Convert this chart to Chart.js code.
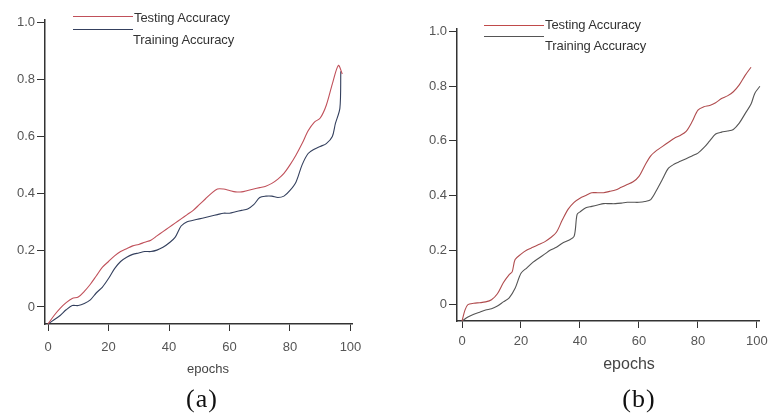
<!DOCTYPE html>
<html lang="en">
<head>
  <meta charset="UTF-8">
  <title>Testing vs Training Accuracy</title>
  <script src="https://cdn.jsdelivr.net/npm/chart.js"></script>
  <style>
    html, body {
      margin: 0;
      padding: 0;
      background: #fff;
      overflow: hidden;
      width: 768px;
      height: 419px;
    }

    body {
      position: relative;
      font-family: "Liberation Sans", Arial, sans-serif;
    }

    canvas {
      position: absolute;
      top: 0;
    }

    #chartA { left: 0; }
    #chartB { left: 384px; }

    .key {
      position: absolute;
      height: 1px;
      width: 60px;
    }

    .keyText {
      position: absolute;
      font-size: 13px;
      line-height: 14px;
      color: #333;
      letter-spacing: -0.1px;
      white-space: nowrap;
    }

    .axisTitle {
      position: absolute;
      color: #444;
      transform: translate(-50%, -50%);
      white-space: nowrap;
    }

    .caption {
      position: absolute;
      font-family: "Liberation Serif", "Times New Roman", serif;
      font-size: 26px;
      letter-spacing: 1px;
      color: #111;
      transform: translate(-50%, -50%);
    }
  </style>
</head>
<body>

  <canvas id="chartA" width="384" height="419"></canvas>
  <canvas id="chartB" width="400" height="419"></canvas>

  <!-- legends -->
  <div class="key" style="left:73px; top:16px; background:#c0505a;"></div>
  <div class="keyText" style="left:134px; top:11px;">Testing Accuracy</div>
  <div class="key" style="left:73px; top:29px; background:#34405e;"></div>
  <div class="keyText" style="left:133px; top:33px;">Training Accuracy</div>

  <div class="key" style="left:484px; top:25px; background:#c04a4a;"></div>
  <div class="keyText" style="left:545px; top:18px;">Testing Accuracy</div>
  <div class="key" style="left:484px; top:36px; background:#555;"></div>
  <div class="keyText" style="left:545px; top:39px;">Training Accuracy</div>

  <div class="axisTitle" style="left:208px; top:368px; font-size:13px;">epochs</div>
  <div class="axisTitle" style="left:629px; top:364px; font-size:16px;">epochs</div>

  <div class="caption" style="left:202px; top:399px;">(a)</div>
  <div class="caption" style="left:639px; top:399px;">(b)</div>

  <script>
    // Panel (a)
    const epochsA = [0, 2, 4, 6, 8, 10, 12, 14, 16, 18, 20, 22, 24, 26, 28, 30, 32, 34, 36, 38,
      40, 42, 44, 46, 48, 50, 52, 54, 56, 58, 60, 62, 64, 66, 68, 70, 72, 74, 76, 78,
      80, 82, 84, 86, 88, 90, 92, 94, 96, 97.3];
    const testAccA = [-0.06, -0.03, -0.005, 0.015, 0.03, 0.035, 0.055, 0.08, 0.11, 0.14,
      0.16, 0.18, 0.195, 0.205, 0.215, 0.22, 0.228, 0.235, 0.25, 0.265,
      0.28, 0.295, 0.31, 0.325, 0.34, 0.36, 0.38, 0.40, 0.415, 0.415,
      0.41, 0.405, 0.405, 0.41, 0.415, 0.42, 0.425, 0.435, 0.45, 0.47,
      0.50, 0.535, 0.575, 0.62, 0.65, 0.665, 0.71, 0.785, 0.85, 0.82];
    const trainEpochsA = [0, 2, 4, 6, 8, 10, 12, 14, 16, 18, 20, 22, 24, 26, 28, 30, 32, 34, 36, 38,
      40, 42, 44, 46, 48, 50, 52, 54, 56, 58, 60, 62, 64, 66, 68, 70, 72, 74, 76, 78,
      80, 82, 84, 86, 88, 90, 92, 94, 95, 96.5, 96.8];
    const trainAccA = [-0.06, -0.045, -0.03, -0.01, 0.005, 0.005, 0.012, 0.025, 0.05, 0.07,
      0.10, 0.135, 0.16, 0.175, 0.185, 0.19, 0.195, 0.195, 0.20, 0.21,
      0.225, 0.245, 0.285, 0.30, 0.305, 0.31, 0.315, 0.32, 0.325, 0.33,
      0.33, 0.335, 0.34, 0.345, 0.36, 0.385, 0.39, 0.39, 0.385, 0.39,
      0.41, 0.44, 0.50, 0.54, 0.555, 0.565, 0.575, 0.60, 0.645, 0.70, 0.83];

    // Panel (b)
    const testEpochsB = [0, 1, 2, 4, 6, 8, 10, 12, 14, 16, 17, 18, 20, 22, 24, 26, 28, 30, 32, 34,
      36, 38, 40, 42, 44, 46, 48, 50, 52, 54, 56, 58, 60, 62, 64, 66, 68, 70, 72, 74,
      76, 78, 80, 82, 84, 86, 88, 90, 92, 94, 96, 98];
    const testAccB = [-0.06, -0.02, 0.0, 0.005, 0.007, 0.01, 0.018, 0.04, 0.08, 0.11,
      0.12, 0.165, 0.185, 0.20, 0.21, 0.22, 0.23, 0.245, 0.265, 0.31,
      0.35, 0.375, 0.39, 0.40, 0.41, 0.41, 0.41, 0.415, 0.42, 0.43,
      0.44, 0.45, 0.47, 0.51, 0.545, 0.565, 0.58, 0.595, 0.61, 0.62,
      0.635, 0.67, 0.713, 0.725, 0.73, 0.74, 0.755, 0.765, 0.78, 0.805,
      0.84, 0.87];
    const trainEpochsB = [0, 2, 4, 6, 8, 10, 12, 14, 16, 18, 20, 22, 24, 26, 28, 30, 32, 34, 36, 38,
      39, 40, 42, 44, 46, 48, 50, 52, 54, 56, 58, 60, 62, 64, 66, 68, 70, 72, 74, 76,
      78, 80, 82, 84, 86, 88, 90, 92, 94, 96, 98, 99.3, 101, 103.5];
    const trainAccB = [-0.06, -0.045, -0.035, -0.028, -0.02, -0.015, -0.005, 0.01, 0.025, 0.06,
      0.115, 0.135, 0.155, 0.17, 0.185, 0.20, 0.21, 0.225, 0.235, 0.25,
      0.33, 0.34, 0.355, 0.36, 0.365, 0.37, 0.37, 0.37, 0.372, 0.375,
      0.375, 0.375, 0.378, 0.385, 0.42, 0.46, 0.50, 0.515, 0.525, 0.535,
      0.545, 0.555, 0.575, 0.60, 0.625, 0.632, 0.636, 0.642, 0.665, 0.70,
      0.735, 0.775, 0.80, 0.84];

    const yTicks = [0, 0.2, 0.4, 0.6, 0.8, 1.0];
    const xTicks = [0, 20, 40, 60, 80, 100];

    function toPoints(xs, ys) {
      return xs.map((x, i) => ({ x: x, y: ys[i] }));
    }

    function makeOptions(p) {
      return {
        responsive: false,
        animation: false,
        layout: { padding: p.padding },
        plugins: {
          legend: { display: false },
          tooltip: { enabled: false }
        },
        elements: {
          point: { radius: 0 },
          line: { tension: 0.3, borderWidth: 1.1 }
        },
        scales: {
          x: {
            type: 'linear',
            min: p.xMin,
            max: p.xMax,
            afterBuildTicks: s => { s.ticks = xTicks.map(v => ({ value: v })); },
            afterFit: s => { s.height = 52; },
            ticks: {
              color: '#555',
              font: { family: 'Liberation Sans', size: 13 },
              padding: p.xPad,
              maxRotation: 0
            },
            grid: { drawOnChartArea: false, tickLength: 7, color: '#333' },
            border: { color: '#333', width: 1.5 }
          },
          y: {
            min: -0.06,
            max: 1.01,
            afterBuildTicks: s => { s.ticks = yTicks.map(v => ({ value: v })); },
            afterFit: s => { s.width = p.yWidth; },
            ticks: {
              color: '#555',
              font: { family: 'Liberation Sans', size: 13 },
              padding: 2,
              callback: v => v === 0 ? '0' : v.toFixed(1)
            },
            grid: { drawOnChartArea: false, tickLength: 8, color: '#333' },
            border: { color: '#333', width: 1.5 }
          }
        }
      };
    }

    new Chart(document.getElementById('chartA').getContext('2d'), {
      type: 'line',
      data: {
        datasets: [
          { label: 'Testing Accuracy', data: toPoints(epochsA, testAccA), borderColor: '#c0505a', clip: false },
          { label: 'Training Accuracy', data: toPoints(trainEpochsA, trainAccA), borderColor: '#34405e', clip: false }
        ]
      },
      options: makeOptions({
        padding: { left: 0, top: 20, right: 32, bottom: 43 },
        xMin: -1, xMax: 100.5, xPad: 9, yWidth: 45
      })
    });

    new Chart(document.getElementById('chartB').getContext('2d'), {
      type: 'line',
      data: {
        datasets: [
          { label: 'Testing Accuracy', data: toPoints(testEpochsB, testAccB), borderColor: '#b04c4e', clip: false },
          { label: 'Training Accuracy', data: toPoints(trainEpochsB, trainAccB), borderColor: '#555', clip: false }
        ]
      },
      options: makeOptions({
        padding: { left: 0, top: 29, right: 25, bottom: 46 },
        xMin: -1.7, xMax: 100.7, xPad: 6, yWidth: 73
      })
    });
  </script>

</body>
</html>
